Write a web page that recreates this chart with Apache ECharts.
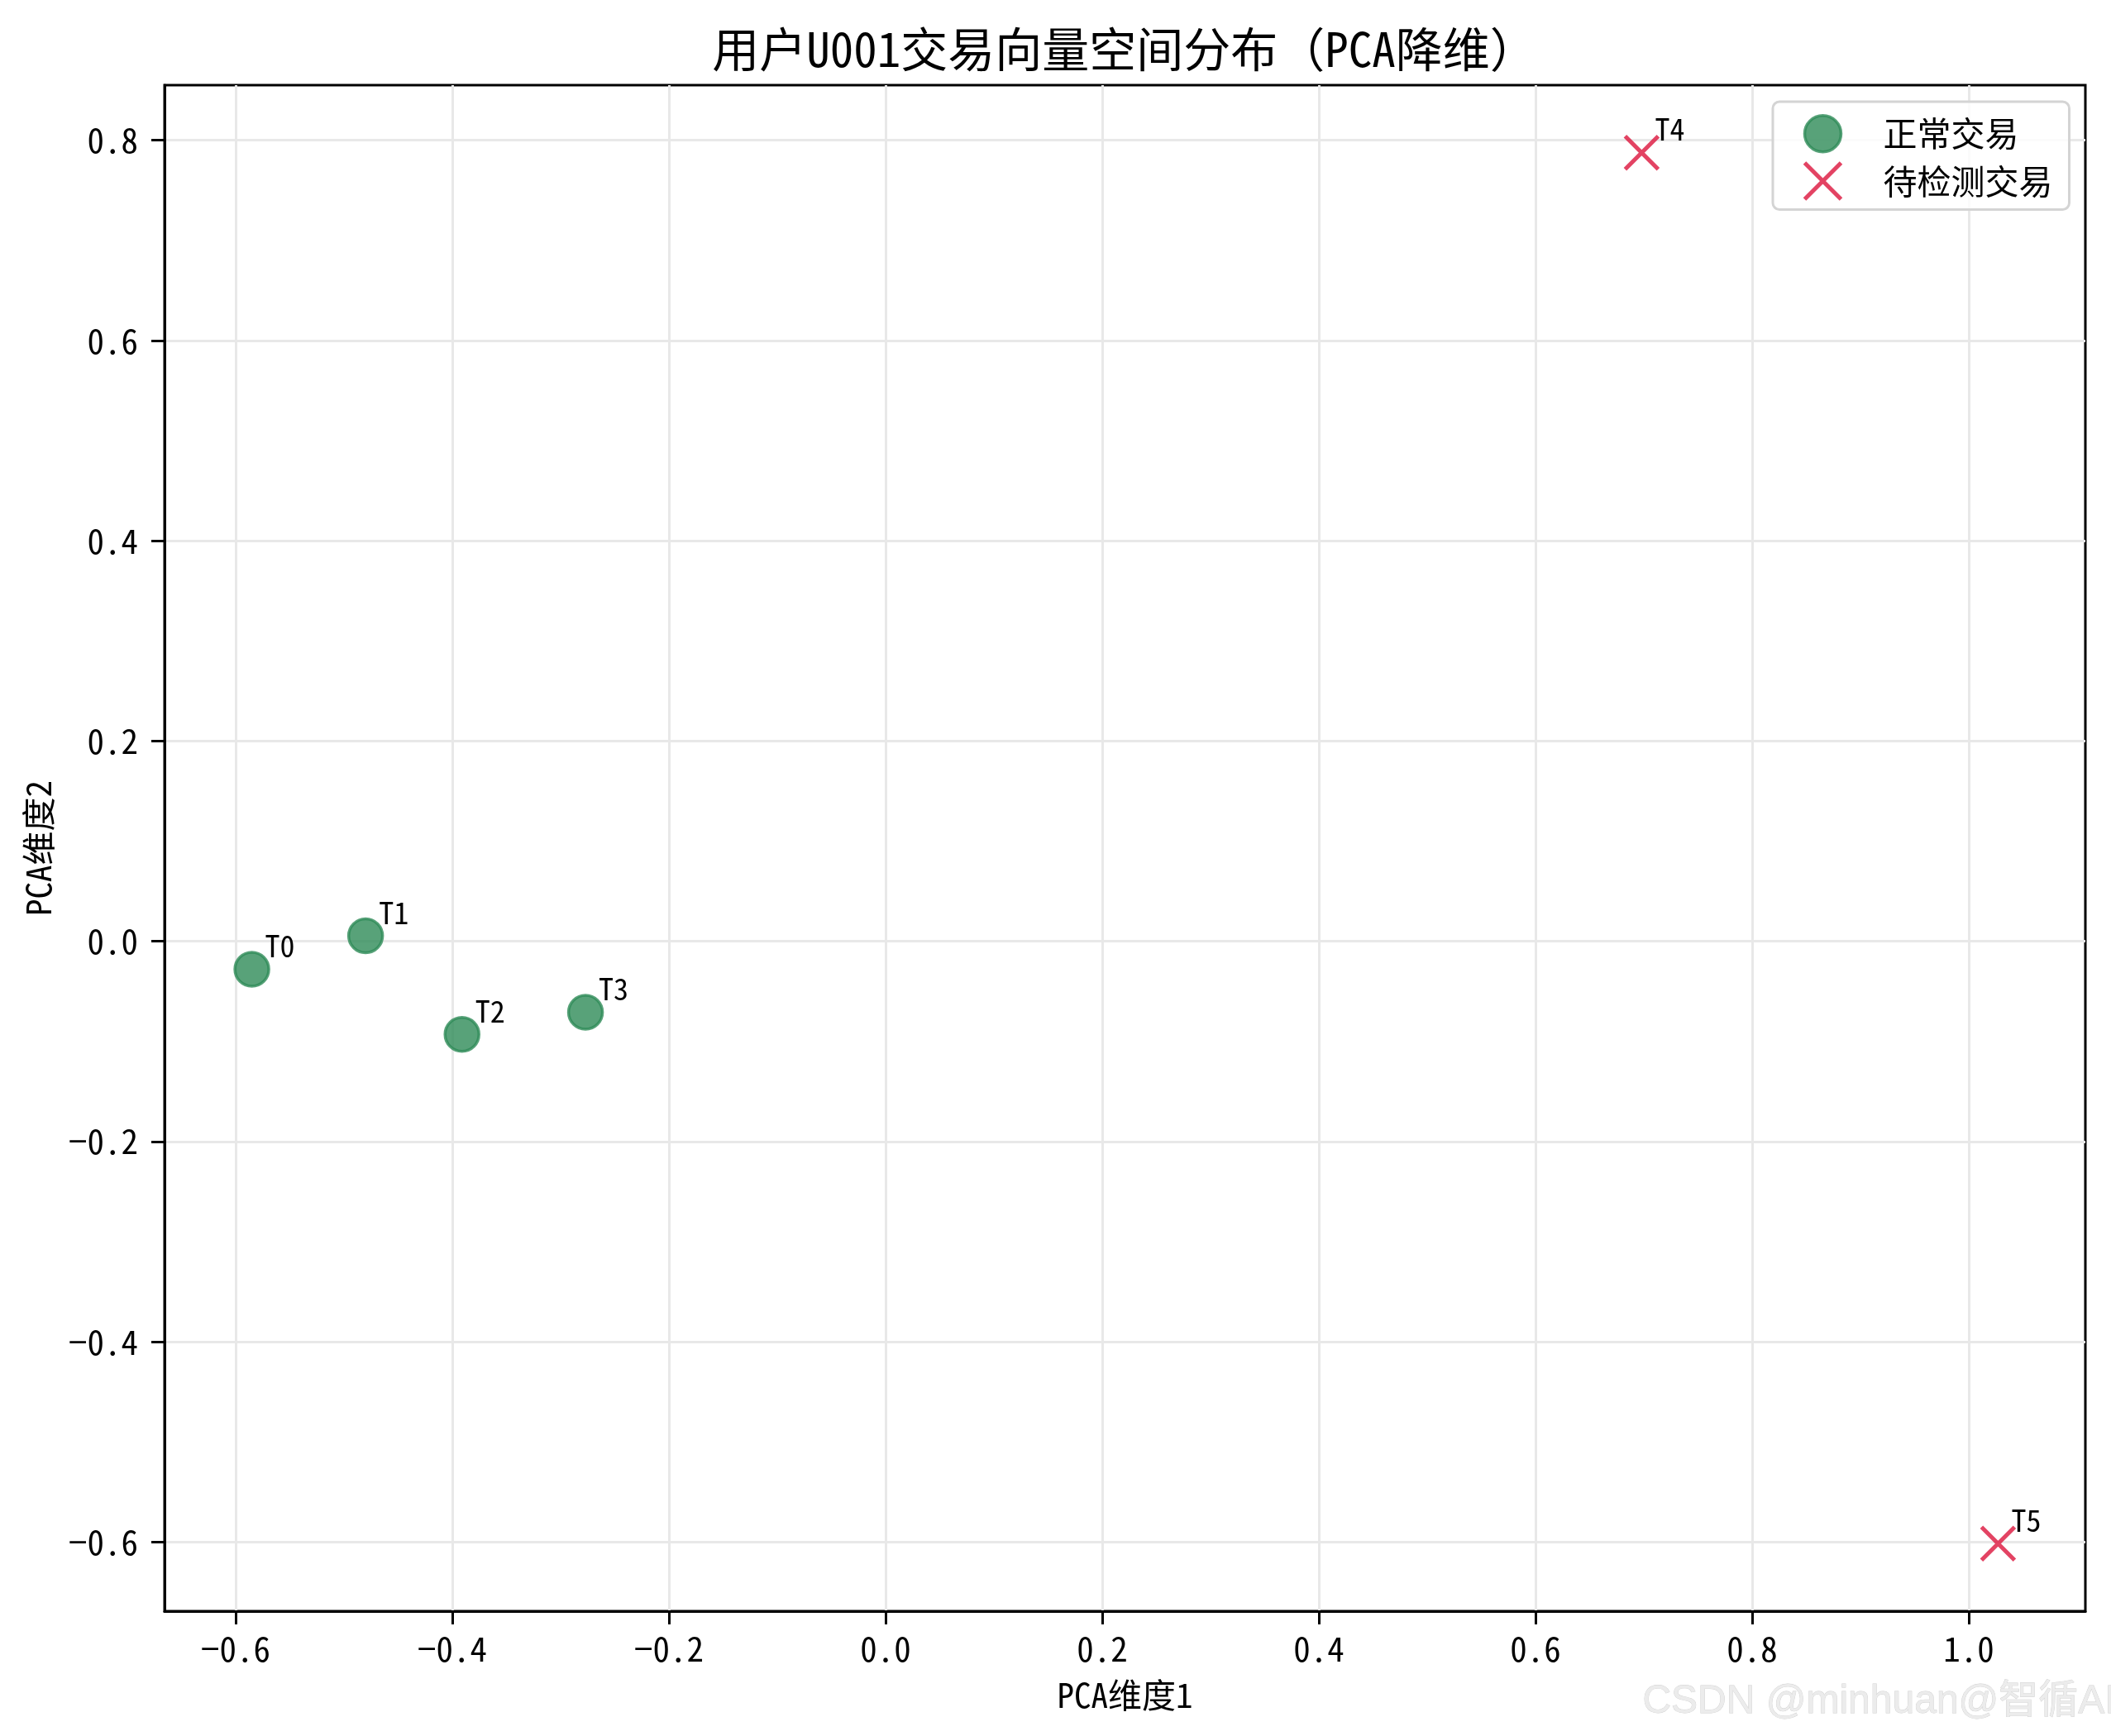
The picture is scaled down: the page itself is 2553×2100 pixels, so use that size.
<!DOCTYPE html>
<html>
<head>
<meta charset="utf-8">
<script src="https://cdn.jsdelivr.net/npm/echarts@6/dist/echarts.min.js"></script>
<style>
html,body{margin:0;padding:0;background:#fff;}
#chart{width:2553px;height:2100px;}
</style>
</head>
<body>
<div id="chart"></div>
<script>
// ---- data ----
const titleText = '用户U001交易向量空间分布（PCA降维）';
const xAxisName = 'PCA维度1';
const yAxisName = 'PCA维度2';
const normalName = '正常交易';
const testName = '待检测交易';
const normalLabels = ['T0', 'T1', 'T2', 'T3'];
const normalX = [-0.585, -0.480, -0.391, -0.277];
const normalY = [-0.028, 0.0055, -0.093, -0.071];
const testLabels = ['T4', 'T5'];
const testX = [0.698, 1.027];
const testY = [0.7876, -0.6017];
const xTicks = [-0.6, -0.4, -0.2, 0.0, 0.2, 0.4, 0.6, 0.8, 1.0];
const yTicks = [-0.6, -0.4, -0.2, 0.0, 0.2, 0.4, 0.6, 0.8];
const xRange = [-0.6656, 1.1076];
const yRange = [-0.6692, 0.8551];
const watermark = 'CSDN @minhuan@智循AI';

// ---- chart ----
const FONT = "'Noto Sans Mono CJK SC', 'Noto Sans CJK SC', sans-serif";
const fmt = v => (Math.abs(v) < 1e-9 ? 0 : v).toFixed(1).replace('-', '\u2212');
const normalData = normalX.map((x, i) => ({ value: [x, normalY[i]], name: normalLabels[i] }));
const testData = testX.map((x, i) => ({ value: [x, testY[i]], name: testLabels[i] }));
const labelCfg = {
  show: true,
  position: 'inside',
  formatter: p => p.name,
  align: 'left',
  verticalAlign: 'middle',
  offset: [16, -28],
  color: '#000',
  fontSize: 36,
  fontFamily: FONT
};
const crossPath = 'path://M0,0L10,10M10,0L0,10';

const chart = echarts.init(document.getElementById('chart'), null, { renderer: 'canvas' });
chart.setOption({
  backgroundColor: '#ffffff',
  animation: false,
  title: {
    text: titleText,
    left: 1360,
    top: 59,
    padding: 0,
    textAlign: 'center',
    textVerticalAlign: 'middle',
    textStyle: { fontSize: 57, fontWeight: 'normal', color: '#000', fontFamily: FONT }
  },
  grid: {
    left: 199, top: 103, width: 2323, height: 1846,
    show: true, borderColor: '#000', borderWidth: 3, backgroundColor: 'transparent',
    outerBoundsMode: 'none'
  },
  legend: {
    orient: 'vertical',
    left: 2144,
    top: 123,
    padding: [15, 20, 10, 36],
    itemWidth: 44,
    itemHeight: 44,
    itemGap: 9,
    backgroundColor: 'rgba(255,255,255,0.8)',
    borderColor: '#d4d4d4',
    borderWidth: 3,
    borderRadius: 8,
    textStyle: { fontSize: 41, color: '#000', fontFamily: FONT, padding: [0, 0, 0, 46], lineHeight: 44 },
    data: [
      { name: normalName, icon: 'circle', itemStyle: { borderWidth: 3.5 } },
      { name: testName, icon: crossPath, itemStyle: { borderWidth: 5, color: 'rgba(0,0,0,0)' } }
    ]
  },
  xAxis: {
    type: 'value',
    min: xRange[0], max: xRange[1],
    name: xAxisName,
    nameLocation: 'middle',
    nameGap: 81,
    nameTextStyle: { fontSize: 41, color: '#000', fontFamily: FONT },
    axisLine: { show: true, onZero: false, lineStyle: { color: '#000', width: 3 } },
    axisTick: { show: true, customValues: xTicks, length: 16, lineStyle: { color: '#000', width: 3 } },
    axisLabel: { customValues: xTicks, formatter: fmt, margin: 25, fontSize: 41, color: '#000', fontFamily: FONT },
    splitLine: { show: true, lineStyle: { color: '#e8e8e8', width: 3 } }
  },
  yAxis: {
    type: 'value',
    min: yRange[0], max: yRange[1],
    name: yAxisName,
    nameLocation: 'middle',
    nameRotate: 90,
    nameGap: 132,
    nameTextStyle: { fontSize: 41, color: '#000', fontFamily: FONT },
    axisLine: { show: true, onZero: false, lineStyle: { color: '#000', width: 3 } },
    axisTick: { show: true, customValues: yTicks, length: 16, lineStyle: { color: '#000', width: 3 } },
    axisLabel: { customValues: yTicks, formatter: fmt, margin: 32, fontSize: 41, color: '#000', fontFamily: FONT },
    splitLine: { show: true, lineStyle: { color: '#e8e8e8', width: 3 } }
  },
  series: [
    {
      name: normalName,
      type: 'scatter',
      symbol: 'circle',
      symbolSize: 41,
      data: normalData,
      itemStyle: { color: 'rgba(46,139,87,0.8)', borderColor: 'rgba(46,139,87,0.8)', borderWidth: 3.5, opacity: 1 },
      label: labelCfg,
      emphasis: { disabled: true },
      z: 3
    },
    {
      name: testName,
      type: 'scatter',
      symbol: crossPath,
      symbolSize: 40,
      data: testData,
      itemStyle: { color: 'rgba(0,0,0,0)', borderColor: 'rgba(220,20,60,0.8)', borderWidth: 5, opacity: 1 },
      label: labelCfg,
      emphasis: { disabled: true },
      z: 3
    }
  ],
  graphic: [
    {
      type: 'text',
      left: 1986,
      top: 2034,
      silent: true,
      style: {
        text: watermark,
        fontSize: 48,
        fontFamily: "'Liberation Sans', 'Noto Sans CJK SC', sans-serif",
        fill: '#ececec',
        stroke: '#cfcfcf',
        lineWidth: 0.8
      }
    }
  ]
});
</script>
</body>
</html>
